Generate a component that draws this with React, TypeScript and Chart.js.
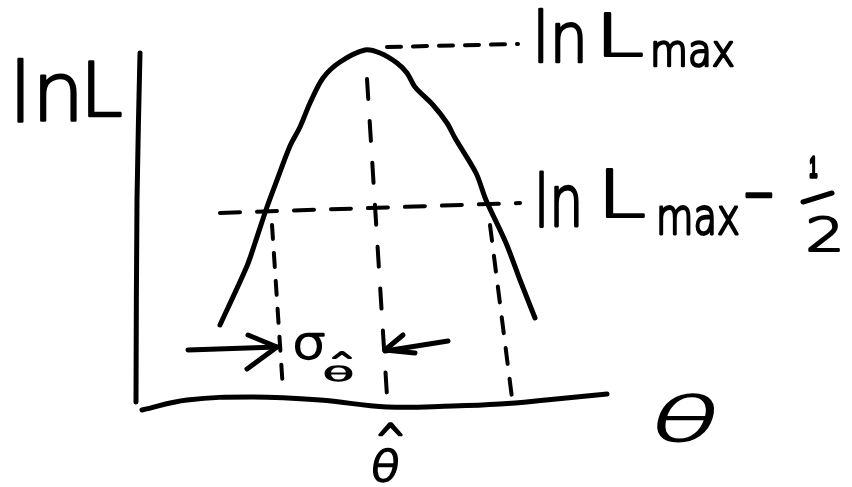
import React, { useEffect, useRef } from "react";
import { Chart, registerables } from "chart.js";

Chart.register(...registerables);

// Sketch coordinates (theta-axis units horizontally, lnL-axis units vertically; y grows downward)
const curveTheta = [220, 247, 255, 267, 277, 290, 300, 310, 323, 340, 365, 380, 397, 407, 415, 433, 447, 455, 476, 486, 506, 520, 535];
const curveLnL = [325, 266, 243, 207, 180, 146, 127, 103, 78, 62, 50, 53, 63, 73, 87, 105, 123, 138, 173, 200, 243, 280, 318];

const yAxisTheta = [140, 137, 136];
const yAxisLnL = [53, 200, 402];

const xAxisTheta = [142, 187, 253, 320, 387, 453, 500, 546, 607];
const xAxisLnL = [410, 400, 397, 400, 407, 406, 404, 400, 394];

const lnLmaxLineTheta = [387, 518];
const lnLmaxLineLnL = [47, 44];

const halfLineTheta = [220, 520];
const halfLineLnL = [213, 203];

const thetaHatLineTheta = [367, 387];
const thetaHatLineLnL = [79, 396];

const lowerBoundTheta = [272, 283];
const lowerBoundLnL = [225, 390];

const upperBoundTheta = [490, 512];
const upperBoundLnL = [225, 398];

const leftArrowShaftTheta = [188, 277];
const leftArrowShaftLnL = [350, 347];
const leftArrowHeadTheta = [248, 277, 247];
const leftArrowHeadLnL = [335, 347, 369];

const rightArrowShaftTheta = [448, 385];
const rightArrowShaftLnL = [341, 351];
const rightArrowHeadTheta = [403, 385, 415];
const rightArrowHeadLnL = [335, 350, 353];

const fractionBarTheta = [803, 832];
const fractionBarLnL = [202, 193];

const pts = (xs: number[], ys: number[]) => xs.map((x, i) => ({ x, y: ys[i] }));

const FONT = '200 100px "DejaVu Sans"';
const FONT_ONE = '100px "Liberation Sans"';

const textItems = [
  { text: "ln", font: FONT, x0: 17, y0: 57, x1: 77, y1: 122 },
  { text: "L", font: FONT, x0: 88, y0: 60, x1: 122, y1: 117 },
  { text: "ln", font: FONT, x0: 538, y0: 8, x1: 583, y1: 63 },
  { text: "L", font: FONT, x0: 604, y0: 11, x1: 643, y1: 57 },
  { text: "max", font: FONT, x0: 653, y0: 40, x1: 734, y1: 68 },
  { text: "ln", font: FONT, x0: 539, y0: 170, x1: 579, y1: 227 },
  { text: "L", font: FONT, x0: 606, y0: 167, x1: 645, y1: 218 },
  { text: "max", font: FONT, x0: 659, y0: 205, x1: 739, y1: 236 },
  { text: "−", font: FONT, x0: 745, y0: 192, x1: 773, y1: 198 },
  { text: "1", font: FONT_ONE, x0: 809, y0: 155, x1: 818, y1: 178 },
  { text: "2", font: FONT, x0: 808, y0: 215, x1: 840, y1: 252 },
  { text: "σ", font: FONT, x0: 295, y0: 333, x1: 325, y1: 360 },
  { text: "^", font: FONT, x0: 332, y0: 352, x1: 352, y1: 360 },
  { text: "θ", font: FONT, x0: 325, y0: 365, x1: 352, y1: 382 },
  { text: "θ", font: FONT, x0: 658, y0: 393, x1: 713, y1: 443, skew: -0.3 },
  { text: "^", font: FONT, x0: 378, y0: 423, x1: 403, y1: 437 },
  { text: "θ", font: FONT, x0: 373, y0: 448, x1: 398, y1: 483, skew: -0.15 },
];

const sketchText = {
  id: "sketchText",
  afterDatasetsDraw(chart: any, _args: any, opts: any) {
    const { ctx, scales } = chart;
    const xs = scales.x;
    const ys = scales.y;
    for (const b of opts.items) {
      const px0 = xs.getPixelForValue(b.x0);
      const px1 = xs.getPixelForValue(b.x1);
      const py0 = ys.getPixelForValue(b.y0);
      const py1 = ys.getPixelForValue(b.y1);
      ctx.save();
      ctx.font = b.font;
      ctx.textAlign = "left";
      ctx.textBaseline = "alphabetic";
      const m = ctx.measureText(b.text);
      const l = -m.actualBoundingBoxLeft;
      const r = m.actualBoundingBoxRight;
      const t = -m.actualBoundingBoxAscent;
      const bt = m.actualBoundingBoxDescent;
      const extra = opts.strokeExtra;
      const sx = (px1 - px0 - extra) / (r - l);
      const sy = (py1 - py0 - extra) / (bt - t);
      const skew = b.skew || 0;
      if (skew) {
        const cx = (px0 + px1) / 2;
        const cy = (py0 + py1) / 2;
        ctx.translate(cx, cy);
        ctx.transform(1, 0, skew, 1, 0, 0);
        ctx.translate(-cx, -cy);
      }
      ctx.translate(px0 + extra / 2 - l * sx, py0 + extra / 2 - t * sy);
      ctx.scale(sx, sy);
      ctx.fillStyle = "#000";
      ctx.strokeStyle = "#000";
      ctx.lineJoin = "round";
      ctx.lineWidth = extra / Math.sqrt(sx * sy);
      ctx.fillText(b.text, 0, 0);
      ctx.strokeText(b.text, 0, 0);
      ctx.restore();
    }
  },
};

export default function App() {
  const ref = useRef<HTMLCanvasElement | null>(null);

  useEffect(() => {
    if (!ref.current) return;
    const solid = (data: any[], width = 5, tension = 0) => ({
      data,
      showLine: true,
      borderColor: "#000",
      borderWidth: width,
      borderCapStyle: "round",
      borderJoinStyle: "round",
      pointRadius: 0,
      tension,
      fill: false,
    });
    const dashed = (data: any[], dash: number[], width = 4) => ({
      data,
      showLine: true,
      borderColor: "#000",
      borderWidth: width,
      borderDash: dash,
      borderCapStyle: "round",
      pointRadius: 0,
      fill: false,
    });

    const chart = new Chart(ref.current, {
      type: "scatter",
      data: {
        datasets: [
          solid(pts(curveTheta, curveLnL), 5, 0.3),
          solid(pts(yAxisTheta, yAxisLnL), 5, 0.3),
          solid(pts(xAxisTheta, xAxisLnL), 5, 0.4),
          dashed(pts(lnLmaxLineTheta, lnLmaxLineLnL), [14, 12]),
          dashed(pts(halfLineTheta, halfLineLnL), [20, 17]),
          dashed(pts(thetaHatLineTheta, thetaHatLineLnL), [20, 22]),
          dashed(pts(lowerBoundTheta, lowerBoundLnL), [14, 14]),
          dashed(pts(upperBoundTheta, upperBoundLnL), [16, 15]),
          solid(pts(leftArrowShaftTheta, leftArrowShaftLnL), 5),
          solid(pts(leftArrowHeadTheta, leftArrowHeadLnL), 5),
          solid(pts(rightArrowShaftTheta, rightArrowShaftLnL), 5),
          solid(pts(rightArrowHeadTheta, rightArrowHeadLnL), 5),
          solid(pts(fractionBarTheta, fractionBarLnL), 5),
        ] as any,
      },
      options: {
        responsive: false,
        animation: false,
        devicePixelRatio: 1,
        layout: { padding: 0 },
        events: [],
        scales: {
          x: { type: "linear", min: 0, max: 852, display: false },
          y: { type: "linear", min: 0, max: 487, reverse: true, display: false },
        },
        plugins: {
          legend: { display: false },
          tooltip: { enabled: false },
          sketchText: { items: textItems, strokeExtra: 2.5 },
        } as any,
      },
      plugins: [sketchText],
    });
    return () => chart.destroy();
  }, []);

  return (
    <div style={{ position: "fixed", left: 0, top: 0, width: 852, height: 487, background: "#fff" }}>
      <canvas ref={ref} width={852} height={487} style={{ display: "block" }} />
    </div>
  );
}
